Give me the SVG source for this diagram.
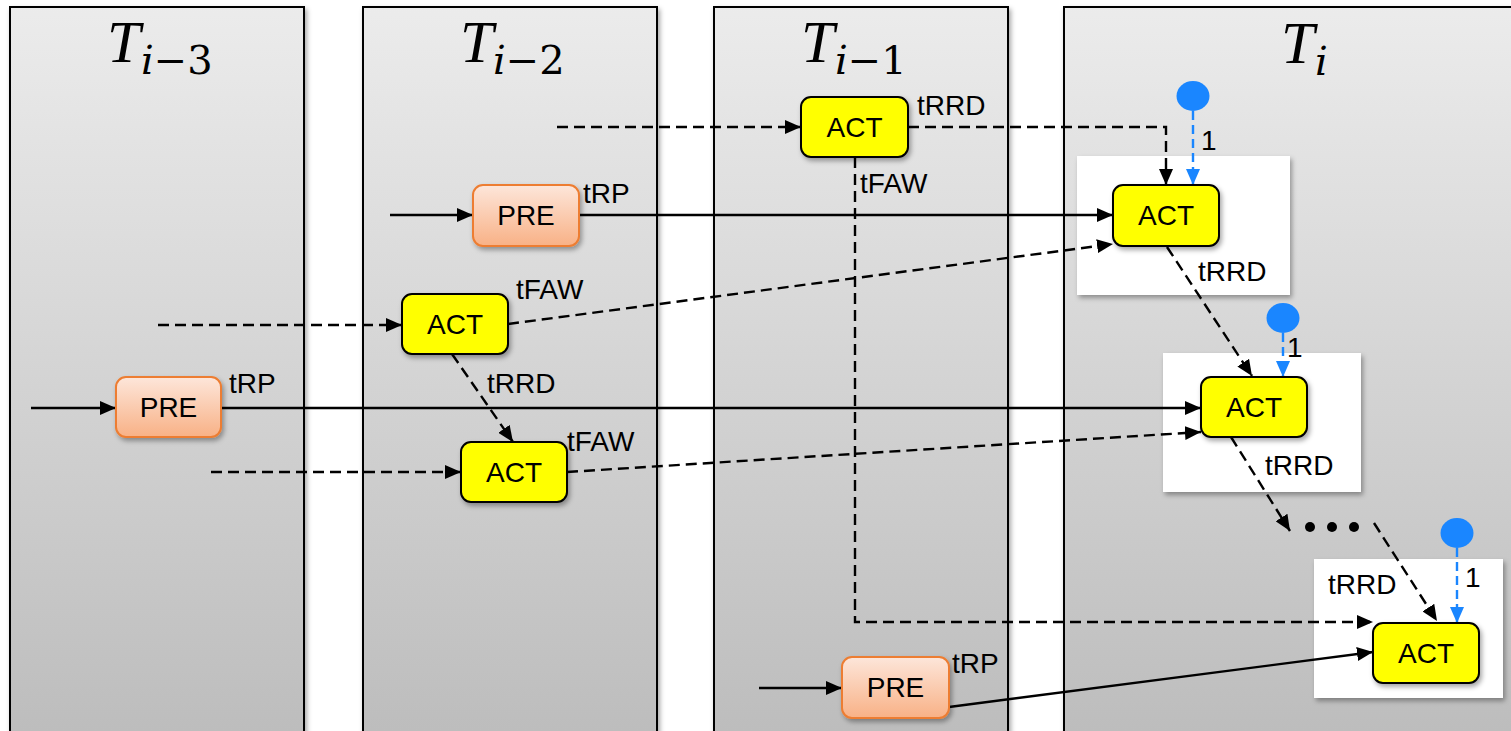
<svg xmlns="http://www.w3.org/2000/svg" width="1511" height="731" viewBox="0 0 1511 731">
  <style>
    .panel { fill: url(#panelFill); stroke: #000; stroke-width: 2; }
    .title { font-family: "Liberation Serif", "DejaVu Serif", serif; fill: #000; }
    .sub { font-family: "DejaVu Serif", "Liberation Serif", serif; fill: #000; font-size: 40px; }
    .it { font-style: italic; }
    .lbl { font-family: "Liberation Sans", Arial, sans-serif; font-size: 28px; fill: #000; }
    .act { fill: #ffff00; stroke: #000; stroke-width: 2; }
    .pre { fill: url(#preFill); stroke: #ed7d31; stroke-width: 2; }
    .ntext { font-family: "Liberation Sans", Arial, sans-serif; font-size: 28px; fill: #000; text-anchor: middle; }
    .solid { fill: none; stroke: #000; stroke-width: 2.4; marker-end: url(#arrowK); }
    .dash { fill: none; stroke: #000; stroke-width: 2.4; stroke-dasharray: 11 6; marker-end: url(#arrowK); }
    .bdash { fill: none; stroke: #1a86ff; stroke-width: 2.4; stroke-dasharray: 9 5; marker-end: url(#arrowB); }
    .dot { fill: #1a86ff; }
    .card { fill: #fff; filter: url(#shadow); }
  </style>
  <defs>
    <linearGradient id="panelFill" x1="0" y1="0" x2="0" y2="731" gradientUnits="userSpaceOnUse">
      <stop offset="0" stop-color="#ececec"/>
      <stop offset="1" stop-color="#bdbdbd"/>
    </linearGradient>
    <linearGradient id="preFill" x1="0" y1="0" x2="0" y2="1">
      <stop offset="0" stop-color="#fde6da"/>
      <stop offset="1" stop-color="#f8b186"/>
    </linearGradient>
    <filter id="shadow" x="-10%" y="-10%" width="125%" height="130%">
      <feDropShadow dx="2" dy="3" stdDeviation="2.5" flood-color="#000" flood-opacity="0.35"/>
    </filter>
    <marker id="arrowK" viewBox="0 0 16 14" refX="16" refY="7" markerWidth="16" markerHeight="14" markerUnits="userSpaceOnUse" orient="auto">
      <path d="M0,0 L16,7 L0,14 Z" fill="#000"/>
    </marker>
    <marker id="arrowB" viewBox="0 0 16 14" refX="16" refY="7" markerWidth="16" markerHeight="14" markerUnits="userSpaceOnUse" orient="auto">
      <path d="M0,0 L16,7 L0,14 Z" fill="#1a86ff"/>
    </marker>
  </defs>

  <rect width="1511" height="731" fill="#fff"/>

  <!-- time slots -->
  <g id="slots">
    <g id="slot-i-3">
      <rect class="panel" x="10" y="7" width="294" height="740" filter="url(#shadow)"/>
      <text class="title it" x="107" y="62" font-size="60">T</text>
      <text class="sub" x="141" y="74"><tspan class="it">i</tspan>−3</text>
    </g>
    <g id="slot-i-2">
      <rect class="panel" x="363" y="7" width="294" height="740" filter="url(#shadow)"/>
      <text class="title it" x="460" y="62" font-size="60">T</text>
      <text class="sub" x="493" y="74"><tspan class="it">i</tspan>−2</text>
    </g>
    <g id="slot-i-1">
      <rect class="panel" x="714" y="7" width="294" height="740" filter="url(#shadow)"/>
      <text class="title it" x="801" y="62" font-size="60">T</text>
      <text class="sub" x="835" y="74"><tspan class="it">i</tspan>−1</text>
    </g>
    <g id="slot-i">
      <rect class="panel" x="1064" y="7" width="460" height="740" filter="url(#shadow)"/>
      <text class="title it" x="1281" y="63" font-size="60">T</text>
      <text class="sub it" x="1315" y="75">i</text>
    </g>
  </g>

  <!-- white highlight cards behind the ACTs of slot Ti -->
  <g id="cards">
    <rect class="card" x="1077" y="156" width="213" height="139"/>
    <rect class="card" x="1163" y="353" width="198" height="139"/>
    <rect class="card" x="1314" y="559" width="189" height="139"/>
  </g>

  <!-- connectors -->
  <g id="connectors">
    <line class="dash" x1="557" y1="127" x2="801" y2="127"/>
    <polyline class="dash" points="908,127 1166,127 1166,185"/>
    <line class="solid" x1="390" y1="215" x2="473" y2="215"/>
    <line class="solid" x1="579" y1="215" x2="1113" y2="215"/>
    <line class="dash" x1="158" y1="325" x2="402" y2="325"/>
    <line class="dash" x1="508" y1="324" x2="1113" y2="244"/>
    <line class="solid" x1="31" y1="408" x2="116" y2="408"/>
    <line class="solid" x1="221" y1="408" x2="1201" y2="408"/>
    <line class="dash" x1="452" y1="354" x2="513" y2="442"/>
    <line class="dash" x1="211" y1="472" x2="461" y2="472"/>
    <line class="dash" x1="567" y1="472" x2="1201" y2="432"/>
    <polyline class="dash" points="855,157 855,622 1373,622"/>
    <line class="dash" x1="1167" y1="247" x2="1252" y2="376"/>
    <line class="dash" x1="1231" y1="437" x2="1290" y2="531"/>
    <line class="dash" x1="1374" y1="523" x2="1437" y2="621"/>
    <line class="solid" x1="759" y1="688" x2="842" y2="688"/>
    <line class="solid" x1="949" y1="707" x2="1373" y2="652"/>
    <line class="bdash" x1="1193" y1="111" x2="1193" y2="185"/>
    <line class="bdash" x1="1283" y1="333" x2="1283" y2="377"/>
    <line class="bdash" x1="1457" y1="548" x2="1457" y2="623"/>
    <circle cx="1310" cy="527" r="5" fill="#000"/>
    <circle cx="1332" cy="527" r="5" fill="#000"/>
    <circle cx="1354" cy="527" r="5" fill="#000"/>
  </g>

  <!-- timing labels -->
  <g id="labels">
    <text class="lbl" x="917" y="115">tRRD</text>
    <text class="lbl" x="860" y="193">tFAW</text>
    <text class="lbl" x="583" y="203">tRP</text>
    <text class="lbl" x="516" y="299">tFAW</text>
    <text class="lbl" x="229" y="393">tRP</text>
    <text class="lbl" x="487" y="393">tRRD</text>
    <text class="lbl" x="567" y="451">tFAW</text>
    <text class="lbl" x="1198" y="281">tRRD</text>
    <text class="lbl" x="1265" y="475">tRRD</text>
    <text class="lbl" x="1328" y="594">tRRD</text>
    <text class="lbl" x="952" y="673">tRP</text>
    <text class="lbl" x="1201" y="150" font-size="25">1</text>
    <text class="lbl" x="1287" y="357" font-size="25">1</text>
    <text class="lbl" x="1465" y="587" font-size="25">1</text>
  </g>

  <!-- bank-access tokens -->
  <g id="tokens">
    <ellipse class="dot" cx="1193" cy="96" rx="16.5" ry="15"/>
    <ellipse class="dot" cx="1283" cy="318" rx="16.5" ry="15"/>
    <ellipse class="dot" cx="1457" cy="533" rx="16.5" ry="15"/>
  </g>

  <!-- commands -->
  <g id="act-i1">
    <rect class="act" x="801" y="97" width="107" height="60" rx="10" filter="url(#shadow)"/>
    <text class="ntext" x="854.5" y="137">ACT</text>
  </g>
  <g id="pre-i2">
    <rect class="pre" x="473" y="185" width="106" height="61" rx="10" filter="url(#shadow)"/>
    <text class="ntext" x="526" y="225">PRE</text>
  </g>
  <g id="act-i2a">
    <rect class="act" x="402" y="294" width="106" height="60" rx="10" filter="url(#shadow)"/>
    <text class="ntext" x="455" y="334">ACT</text>
  </g>
  <g id="pre-i3">
    <rect class="pre" x="116" y="377" width="105" height="60" rx="10" filter="url(#shadow)"/>
    <text class="ntext" x="168.5" y="417">PRE</text>
  </g>
  <g id="act-i2b">
    <rect class="act" x="461" y="442" width="106" height="60" rx="10" filter="url(#shadow)"/>
    <text class="ntext" x="514" y="482">ACT</text>
  </g>
  <g id="pre-i1">
    <rect class="pre" x="842" y="657" width="107" height="61" rx="10" filter="url(#shadow)"/>
    <text class="ntext" x="895.5" y="697">PRE</text>
  </g>
  <g id="act-a">
    <rect class="act" x="1113" y="185" width="106" height="61" rx="10" filter="url(#shadow)"/>
    <text class="ntext" x="1166" y="225">ACT</text>
  </g>
  <g id="act-b">
    <rect class="act" x="1201" y="377" width="106" height="60" rx="10" filter="url(#shadow)"/>
    <text class="ntext" x="1254" y="417">ACT</text>
  </g>
  <g id="act-c">
    <rect class="act" x="1373" y="623" width="106" height="60" rx="10" filter="url(#shadow)"/>
    <text class="ntext" x="1426" y="663">ACT</text>
  </g>
</svg>
